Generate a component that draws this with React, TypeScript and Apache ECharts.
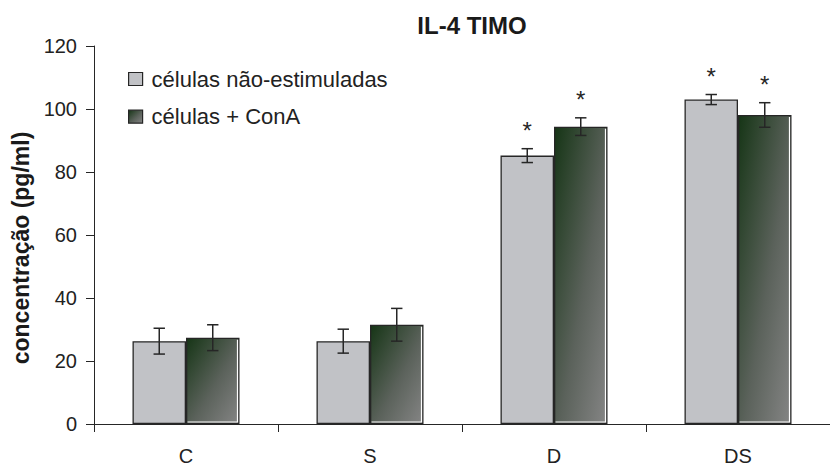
import React, { useEffect, useRef } from 'react';
import * as echarts from 'echarts';

// Grupos experimentais e concentrações de IL-4 no timo (pg/ml)
const categories = ['C', 'S', 'D', 'DS'];
const seriesNames = ['células não-estimuladas', 'células + ConA'];
const unstimulated = [26.3, 26.3, 85.2, 103.0];
const unstimulatedErr = [4.1, 3.8, 2.2, 1.6];
const conA = [27.4, 31.5, 94.4, 98.1];
const conAErr = [4.1, 5.2, 2.8, 3.9];
// Diferença significativa (*) por grupo
const unstimulatedSig = [false, false, true, true];
const conASig = [false, false, true, true];
const yMin = 0;
const yMax = 120;
const yStep = 20;

const FONT = '"Liberation Sans", Arial, Helvetica, sans-serif';
const INK = '#262626';
const BAR_W = 53.5;

const greenFill = new echarts.graphic.LinearGradient(0, 0, 1, 1, [
  { offset: 0, color: '#163516' },
  { offset: 0.55, color: '#5b625b' },
  { offset: 1, color: '#858585' },
]);

function errorBars(name: string, values: number[], errs: number[], sig: boolean[], side: number) {
  return {
    type: 'custom',
    name,
    silent: true,
    z: 5,
    data: values.map((v, i) => [i, v, errs[i], sig[i] ? 1 : 0]),
    renderItem: (_params: any, api: any) => {
      const i = api.value(0);
      const v = api.value(1);
      const e = api.value(2);
      const s = api.value(3);
      const top = api.coord([i, v + e]);
      const bot = api.coord([i, v - e]);
      const barTop = api.coord([i, v]);
      const base = api.coord([i, 0]);
      const x = top[0] + side * BAR_W / 2;
      const cap = 5.7;
      const st = { stroke: INK, lineWidth: 1.5 };
      const children: any[] = [];
      if (side > 0) {
        // thin white highlight along the inner right and bottom edges of the gradient bar
        const xr = top[0] + BAR_W - 2;
        const xl = top[0] + 1.5;
        const yb = base[1] - 2;
        children.push({
          type: 'polyline',
          shape: { points: [[xr, barTop[1] + 2], [xr, yb], [xl, yb]] },
          style: { stroke: '#ffffff', lineWidth: 1.2, fill: null },
        });
      }
      children.push(
        { type: 'line', shape: { x1: x, y1: top[1], x2: x, y2: bot[1] }, style: st },
        { type: 'line', shape: { x1: x - cap, y1: top[1], x2: x + cap, y2: top[1] }, style: st },
        { type: 'line', shape: { x1: x - cap, y1: bot[1], x2: x + cap, y2: bot[1] }, style: st },
      );
      if (s) {
        children.push({
          type: 'text',
          x,
          y: top[1] - 18,
          style: {
            text: '*',
            fontSize: 24,
            fontFamily: FONT,
            fill: INK,
            align: 'center',
            verticalAlign: 'middle',
          },
        });
      }
      return { type: 'group', children };
    },
  };
}

export default function App() {
  const ref = useRef<HTMLDivElement>(null);

  useEffect(() => {
    if (!ref.current) return;
    const chart = echarts.init(ref.current, null, { renderer: 'svg' });
    chart.setOption({
      animation: false,
      backgroundColor: '#ffffff',
      title: {
        text: 'IL-4 TIMO',
        left: 472,
        top: 13,
        padding: 0,
        textAlign: 'center',
        textStyle: { fontFamily: FONT, fontSize: 24, fontWeight: 'bold', color: '#1a1a1a' },
      },
      legend: {
        data: seriesNames,
        orient: 'vertical',
        left: 128,
        top: 67,
        padding: 0,
        icon: 'rect',
        itemWidth: 14,
        itemHeight: 13,
        itemGap: 13.7,
        itemStyle: { borderColor: INK, borderWidth: 1.2 },
        textStyle: {
          fontFamily: FONT,
          fontSize: 22,
          color: '#222',
          lineHeight: 24,
          padding: [0, 0, 0, 4],
        },
      },
      grid: { left: 94, top: 46, width: 745, height: 382.5 },
      xAxis: {
        type: 'category',
        data: categories,
        axisLine: { lineStyle: { color: INK, width: 1 } },
        axisTick: { show: true, length: 8, lineStyle: { color: INK } },
        axisLabel: { fontFamily: FONT, fontSize: 20, color: '#222', margin: 22 },
      },
      yAxis: {
        type: 'value',
        min: yMin,
        max: yMax,
        interval: yStep,
        name: 'concentração (pg/ml)',
        nameLocation: 'middle',
        nameRotate: 90,
        nameGap: 60,
        nameTextStyle: {
          fontFamily: FONT,
          fontSize: 23,
          fontWeight: 'bold',
          color: '#1a1a1a',
          padding: [0, 26, 0, 0],
        },
        axisLine: { show: true, lineStyle: { color: INK, width: 1 } },
        axisTick: { show: true, length: 8, lineStyle: { color: INK } },
        splitLine: { show: false },
        axisLabel: { fontFamily: FONT, fontSize: 20, color: '#222', margin: 17 },
      },
      series: [
        {
          type: 'bar',
          name: seriesNames[0],
          data: unstimulated,
          barWidth: BAR_W,
          barGap: '0%',
          itemStyle: { color: '#c1c2c6', borderColor: INK, borderWidth: 1.3 },
        },
        {
          type: 'bar',
          name: seriesNames[1],
          data: conA,
          barWidth: BAR_W,
          barGap: '0%',
          itemStyle: { color: greenFill, borderColor: INK, borderWidth: 1.3 },
        },
        errorBars('err-0', unstimulated, unstimulatedErr, unstimulatedSig, -1),
        errorBars('err-1', conA, conAErr, conASig, 1),
      ],
    });
    return () => chart.dispose();
  }, []);

  return (
    <div
      ref={ref}
      style={{ position: 'absolute', left: 0, top: 0, width: 830, height: 466 }}
    />
  );
}
